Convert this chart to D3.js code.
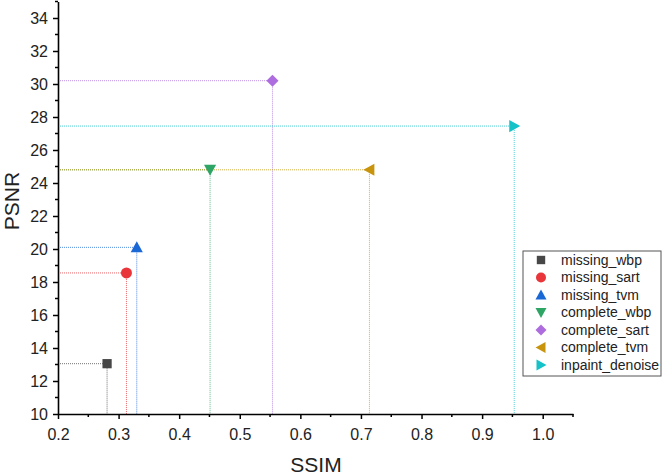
<!DOCTYPE html>
<html><head><meta charset="utf-8">
<script src="https://cdn.jsdelivr.net/npm/d3@7"></script>
<style>body{margin:0;background:#fff}svg{display:block}text{font-family:Arial,"Liberation Sans",sans-serif}</style>
</head><body>
<script>
const series = ["missing_wbp","missing_sart","missing_tvm","complete_wbp","complete_sart","complete_tvm","inpaint_denoise"];
const ssim = [0.281, 0.313, 0.330, 0.451, 0.554, 0.714, 0.953];
const psnr = [13.05, 18.55, 20.1, 24.8, 30.2, 24.8, 27.45];
const colors = ["#474747","#e8363b","#1a67d6","#2fa565","#ad6ddf","#c8940e","#14c2c8"];
const shapes = ["square","circle","triUp","triDown","diamond","triLeft","triRight"];
const xTicks = [0.2,0.3,0.4,0.5,0.6,0.7,0.8,0.9,1.0];
const yTicks = [10,12,14,16,18,20,22,24,26,28,30,32,34];

const W=663,H=476;
const svg=d3.select("body").append("svg").attr("width",W).attr("height",H);
const x=d3.scaleLinear().domain([0.2,1.05]).range([58,573]);
const y=d3.scaleLinear().domain([10,35]).range([414,1.5]);

const data=series.map((s,i)=>({name:s,sx:ssim[i],py:psnr[i],c:colors[i],shape:shapes[i]}));

// drop lines
const g=svg.append("g");
data.forEach(d=>{
  g.append("line").attr("x1",x(0.2)).attr("x2",x(d.sx)).attr("y1",y(d.py)).attr("y2",y(d.py))
   .attr("stroke",d.c).attr("stroke-width",1).attr("stroke-dasharray","1,1").attr("opacity",0.75);
  g.append("line").attr("x1",x(d.sx)).attr("x2",x(d.sx)).attr("y1",y(d.py)).attr("y2",y(10))
   .attr("stroke",d.c).attr("stroke-width",1).attr("stroke-dasharray","1,1").attr("opacity",0.75);
});

function markerPath(shape,s){
  switch(shape){
    case "square": return `M${-s*0.42},${-s*0.42}h${s*0.84}v${s*0.84}h${-s*0.84}Z`;
    case "circle": return d3.symbol(d3.symbolCircle,Math.PI*(s*0.5)**2)();
    case "diamond": return `M0,${-s*0.55}L${s*0.55},0L0,${s*0.55}L${-s*0.55},0Z`;
    case "triUp": return `M0,${-s*0.55}L${s*0.55},${s*0.45}L${-s*0.55},${s*0.45}Z`;
    case "triDown": return `M0,${s*0.55}L${s*0.55},${-s*0.45}L${-s*0.55},${-s*0.45}Z`;
    case "triLeft": return `M${-s*0.55},0L${s*0.45},${s*0.55}L${s*0.45},${-s*0.55}Z`;
    case "triRight": return `M${s*0.55},0L${-s*0.45},${s*0.55}L${-s*0.45},${-s*0.55}Z`;
  }
}

svg.append("g").selectAll("path").data(data).join("path")
  .attr("transform",d=>`translate(${x(d.sx)},${y(d.py)})`)
  .attr("d",d=>markerPath(d.shape,11)).attr("fill",d=>d.c);

// axes
const xAxis=svg.append("g").attr("transform",`translate(0,${y(10)})`)
  .call(d3.axisBottom(x).tickValues(xTicks).tickFormat(d3.format(".1f")).tickSize(5).tickSizeOuter(0));
const yAxis=svg.append("g").attr("transform",`translate(${x(0.2)},0)`)
  .call(d3.axisLeft(y).tickValues(yTicks).tickFormat(d3.format("d")).tickSize(5).tickSizeOuter(0));
[xAxis,yAxis].forEach(a=>{
  a.select(".domain").attr("stroke","#000").attr("stroke-width",1.6);
  a.selectAll(".tick line").attr("stroke","#000").attr("stroke-width",1.5);
  a.selectAll(".tick text").attr("font-size",16).attr("fill","#222");
});
xAxis.selectAll(".tick text").attr("dy","1.15em");
yAxis.selectAll(".tick text").attr("dx","-2");
// minor ticks
const xMinor=d3.range(0.25,1.06,0.1);
svg.append("g").selectAll("line").data(xMinor).join("line")
  .attr("x1",d=>x(d)).attr("x2",d=>x(d)).attr("y1",y(10)).attr("y2",y(10)+3)
  .attr("stroke","#000").attr("stroke-width",1.5);
const yMinor=d3.range(11,35.5,2);
svg.append("g").selectAll("line").data(yMinor).join("line")
  .attr("x1",x(0.2)-3).attr("x2",x(0.2)).attr("y1",d=>y(d)).attr("y2",d=>y(d))
  .attr("stroke","#000").attr("stroke-width",1.5);

// axis titles
svg.append("text").attr("x",316).attr("y",472).attr("text-anchor","middle").attr("font-size",21).attr("fill","#222").text("SSIM");
svg.append("text").attr("transform","translate(19,201) rotate(-90)").attr("text-anchor","middle").attr("font-size",21).attr("fill","#222").text("PSNR");

// legend
const lg=svg.append("g");
lg.append("rect").attr("x",523).attr("y",251).attr("width",138).attr("height",125)
  .attr("fill","#fff").attr("stroke","#555").attr("stroke-width",1);
data.forEach((d,i)=>{
  const yy=260+i*17.5;
  lg.append("path").attr("transform",`translate(541,${yy})`).attr("d",markerPath(d.shape,10)).attr("fill",d.c);
  lg.append("text").attr("x",561).attr("y",yy).attr("dy","0.35em").attr("font-size",14).attr("fill","#222").text(d.name);
});
</script>
</body></html>
